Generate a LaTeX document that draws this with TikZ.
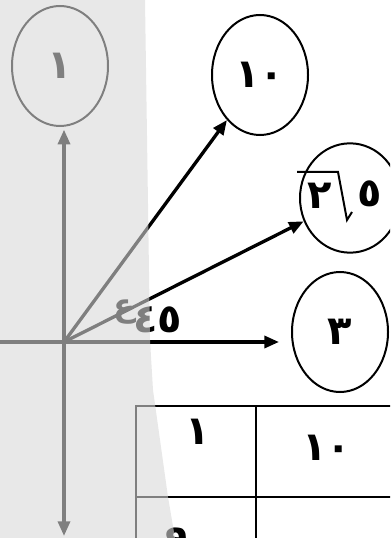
\documentclass[tikz,border=0pt]{standalone}
\usepackage{fontspec}
\newfontfamily\arabicfont[Script=Arabic]{DejaVu Sans}
\usetikzlibrary{arrows.meta, positioning, shapes.geometric, calc}

\begin{document}
\begin{tikzpicture}[
    x=0.75pt, y=-0.75pt,
    >={Triangle[length=11pt, width=9pt]},
    vec/.style={->, line width=2.5pt},
    circ/.style={draw, ellipse, line width=1.5pt, inner sep=0pt,
                 minimum width=72pt, minimum height=90pt},
    num/.style={font=\arabicfont\bfseries\fontsize{30}{32}\selectfont,
                inner sep=0pt},
    grid/.style={line width=1.6pt}
  ]
  \useasboundingbox (0,0) rectangle (390,538);
  \clip (0,0) rectangle (390,538);
  \fill[white] (0,0) rectangle (390,538);

  \coordinate (O) at (64,342);
  \coordinate (xl) at (0,342);
  \coordinate (yb) at (64,536);

  % circles
  \node[circ, num] (c1) at (60,66) {١};
  \node[circ, num] (c10) at (260,75) {١٠};
  \node[circ, minimum width=75pt, minimum height=82pt] (c52) at (350,198) {};
  \node[circ, num] (c3) at (340,332) {٣};

  % root inside c52
  \node[num] (r2) at ($(c52)+(-30,-2)$) {٢};
  \node[num] (r5) at ($(c52)+(20,-4)$) {٥};
  \draw[line width=1.5pt] ($(c52)+(-53,-26)$) -- ($(c52)+(-12,-26)$)
    -- ($(c52)+(-3,22)$) -- ($(c52)+(2,14)$);

  % axes and vectors
  \draw[vec, shorten >=2pt] (O) -- (O |- c1.south);
  \draw[vec] (O) -- (yb);
  \draw[vec, shorten >=9pt] (xl) -- (O -| c3.west);
  \draw[vec] (O) -- (c10);
  \draw[vec] (O) -- (c52);

  % angle
  \node[num] (a45) at (158,320) {٤٥};
  \node[num, font=\arabicfont\bfseries\fontsize{24}{26}\selectfont,
        left=-2pt of a45, yshift=6pt] (ain) {ع};

  % table
  \draw[grid] (136,540) |- (392,406);
  \draw[grid] (136,497) -- (392,497);
  \draw[grid] (256,406) -- (256,540);
  \node[num] (t1) at (198,432) {١};
  \node[num] (t10) at (327,448) {١٠};
  \node[num] (t9) at (178,541) {٩};

  % shaded strip
  \fill[black!15, opacity=0.59] (0,0) -- (145,0) -- (150,340) -- (153,390)
    -- (168,497) -- (175,538) -- (0,538) -- cycle;
\end{tikzpicture}
\end{document}
